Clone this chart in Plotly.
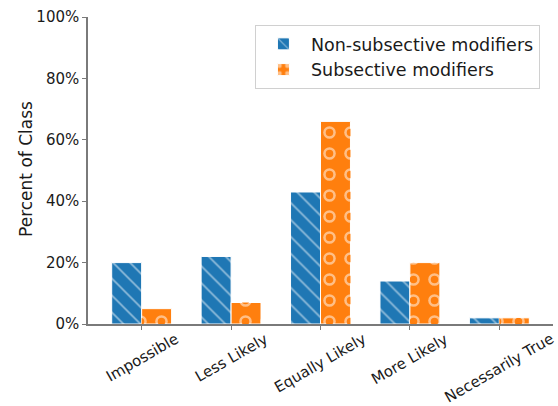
import plotly.graph_objects as go

categories = ["Impossible", "Less Likely", "Equally Likely", "More Likely", "Necessarily True"]
non_subsective = [20, 22, 43, 14, 2]
subsective = [5, 7, 66, 20, 2]
y_ticks = [0, 20, 40, 60, 80, 100]
y_tick_labels = ["0%", "20%", "40%", "60%", "80%", "100%"]

BLUE = "#1f77b4"
ORANGE = "#ff7f0e"
FONT = "DejaVu Sans"
AXIS = "#7a7a7a"
TXT = "#1a1a1a"
W = 0.335

xs = list(range(len(categories)))

fig = go.Figure()
fig.add_trace(go.Bar(
    x=xs, y=non_subsective, name="Non-subsective modifiers",
    width=W, offset=-W,
    marker=dict(color=BLUE, line=dict(color="white", width=1),
                pattern=dict(shape="\\", fgcolor="white", bgcolor=BLUE, size=12, solidity=0.14)),
))
fig.add_trace(go.Bar(
    x=xs, y=subsective, name="Subsective modifiers",
    width=W, offset=0,
    marker=dict(color=ORANGE, line=dict(color="white", width=1),
                pattern=dict(shape=".", fgcolor="white", bgcolor=ORANGE, size=21, solidity=0.28)),
))
# inner dots to make the white dots look like rings
fig.add_trace(go.Bar(
    x=xs, y=subsective, name="Subsective modifiers", showlegend=False, hoverinfo="skip",
    width=W, offset=0,
    marker=dict(color="rgba(0,0,0,0)", line=dict(width=0),
                pattern=dict(shape=".", fgcolor=ORANGE, bgcolor="rgba(0,0,0,0)", size=21, solidity=0.10,
                             fillmode="overlay", fgopacity=1)),
))

for i, c in enumerate(categories):
    fig.add_annotation(x=i, y=0, xref="x", yref="y", text=c, showarrow=False,
                       textangle=-30, xanchor="center", yanchor="top", yshift=-3,
                       font=dict(family=FONT, size=15, color=TXT))

fig.add_annotation(x=0, y=0.505, xref="paper", yref="paper", xshift=-62, text="Percent of Class",
                   showarrow=False, textangle=-90, xanchor="center", yanchor="middle",
                   font=dict(family=FONT, size=17, color=TXT))

fig.update_layout(
    width=558, height=406,
    margin=dict(l=88, r=5, t=17, b=82, autoexpand=False),
    paper_bgcolor="white", plot_bgcolor="white",
    barmode="overlay",
    font=dict(family=FONT, size=15, color=TXT),
    showlegend=True,
    legend=dict(x=0.359, y=0.974, xanchor="left", yanchor="top", itemwidth=45,
                bordercolor="#d0d0d0", borderwidth=1, bgcolor="rgba(255,255,255,0.8)",
                font=dict(family=FONT, size=17.5, color=TXT), tracegroupgap=2),
    xaxis=dict(range=[-0.6, 4.6], tickvals=xs, ticktext=[""] * len(xs), showline=True,
               linecolor=AXIS, linewidth=1.5, ticks="outside", ticklen=4, tickcolor=AXIS,
               showgrid=False, zeroline=False, automargin=False),
    yaxis=dict(range=[0, 100], tickvals=y_ticks, ticktext=y_tick_labels, showline=True,
               linecolor=AXIS, linewidth=1.5, ticks="outside", ticklen=4, tickcolor=AXIS,
               showgrid=False, zeroline=False, automargin=False,
               tickfont=dict(family=FONT, size=15, color=TXT)),
)

fig.write_html("out.html", config={"displayModeBar": False},
               post_script="document.body.style.margin='0';")
